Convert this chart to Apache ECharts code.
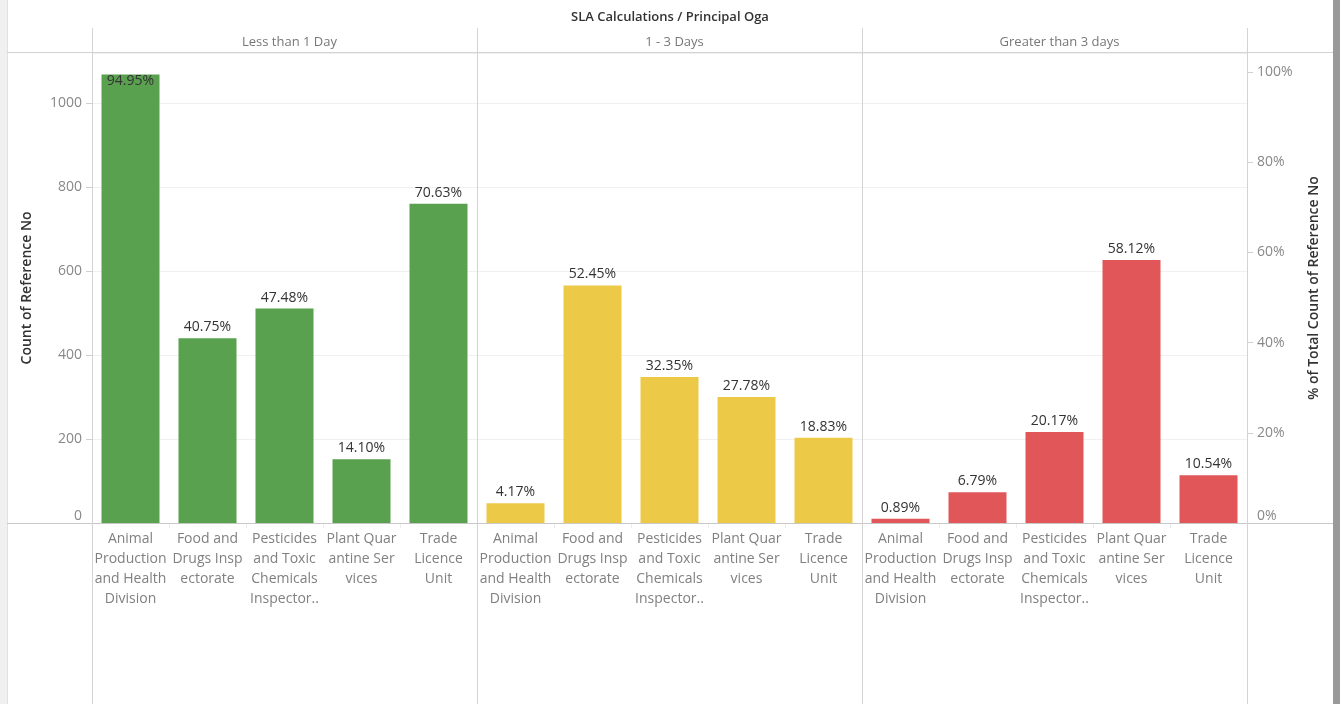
<!DOCTYPE html>
<html><head><meta charset="utf-8">
<script src="https://cdn.jsdelivr.net/npm/echarts@6/dist/echarts.min.js"></script>
<style>html,body{margin:0;padding:0;background:#fff}#c{width:1340px;height:704px}</style>
</head><body><div id="c"></div>
<script>
const chartTitle = 'SLA Calculations / Principal Oga';
const panels = ['Less than 1 Day', '1 - 3 Days', 'Greater than 3 days'];
const categories = [
  'Animal\nProduction\nand Health\nDivision',
  'Food and\nDrugs Insp\nectorate',
  'Pesticides\nand Toxic\nChemicals\nInspector..',
  'Plant Quar\nantine Ser\nvices',
  'Trade\nLicence\nUnit'
];
const countLessThan1Day = [1069, 440, 511, 152, 761];
const count1to3Days = [47, 566, 348, 300, 203];
const countGreaterThan3Days = [10, 73, 217, 627, 114];
const pctLessThan1Day = ['94.95%', '40.75%', '47.48%', '14.10%', '70.63%'];
const pct1to3Days = ['4.17%', '52.45%', '32.35%', '27.78%', '18.83%'];
const pctGreaterThan3Days = ['0.89%', '6.79%', '20.17%', '58.12%', '10.54%'];
const countTicks = [0, 200, 400, 600, 800, 1000];
const pctTicks = [0, 20, 40, 60, 80, 100];
const colors = ['#59A14F', '#EDC948', '#E15759'];

const FONT = 'Open Sans';
const counts = [countLessThan1Day, count1to3Days, countGreaterThan3Days];
const pcts = [pctLessThan1Day, pct1to3Days, pctGreaterThan3Days];

const PANEL_LEFT = 92, PANEL_W = 385, TOP = 53, BASE = 523;
const COUNT_MAX = 1120;       // axis top (grid top)
const PCT_MAX = 104.2;        // synchronized right axis top

const chart = echarts.init(document.getElementById('c'));

const grids = panels.map((p, i) => ({
  left: PANEL_LEFT + i * PANEL_W, width: PANEL_W, top: TOP, height: BASE - TOP
}));

const xAxes = panels.map((p, i) => ({
  type: 'category', gridIndex: i, data: categories,
  axisLine: { show: false },
  axisTick: { show: true, length: 5, lineStyle: { color: '#ececec' } },
  axisLabel: { interval: 0, color: '#808080', fontFamily: FONT, fontSize: 14, lineHeight: 20, margin: 6 }
}));

const countInterval = countTicks[1] - countTicks[0];
const yAxes = panels.map((p, i) => ({
  type: 'value', gridIndex: i, min: 0, max: COUNT_MAX, interval: countInterval,
  position: 'left',
  name: i === 0 ? 'Count of Reference No' : '',
  nameLocation: 'middle', nameGap: 58, nameRotate: 90,
  nameTextStyle: { color: '#333', fontFamily: FONT, fontSize: 14, fontWeight: 600 },
  axisLine: { show: false },
  axisTick: { show: i === 0, length: 6, lineStyle: { color: '#d0d0d0' } },
  axisLabel: {
    show: i === 0, color: '#888', fontFamily: FONT, fontSize: 14, margin: 10,
    formatter: (v) => String(v),
    showMaxLabel: false, verticalAlignMinLabel: 'bottom'
  },
  splitLine: { show: true, lineStyle: { color: '#f0f0f0' } }
}));
yAxes.push({
  type: 'value', gridIndex: 2, position: 'right', min: 0, max: PCT_MAX,
  interval: pctTicks[1] - pctTicks[0],
  name: '% of Total Count of Reference No',
  nameLocation: 'middle', nameGap: 60, nameRotate: 90,
  nameTextStyle: { color: '#333', fontFamily: FONT, fontSize: 14, fontWeight: 600 },
  axisLine: { show: false },
  axisTick: { show: true, length: 6, lineStyle: { color: '#d0d0d0' } },
  axisLabel: {
    color: '#888', fontFamily: FONT, fontSize: 14, margin: 10,
    formatter: '{value}%', showMaxLabel: false, verticalAlignMinLabel: 'bottom'
  },
  splitLine: { show: false }
});

const series = panels.map((p, i) => ({
  type: 'bar', name: p, xAxisIndex: i, yAxisIndex: i,
  barWidth: 58,
  itemStyle: { color: colors[i] },
  data: counts[i].map((v, j) => {
    const inside = (v / COUNT_MAX) > 0.94;
    return {
      value: v,
      label: inside ? { position: 'insideTop', distance: 0 } : undefined
    };
  }),
  label: {
    show: true, position: 'top', distance: 4, color: '#333',
    fontFamily: FONT, fontSize: 14,
    formatter: (prm) => pcts[i][prm.dataIndex]
  },
  silent: true
}));

const titles = [{
  text: chartTitle, left: 'center', top: 6,
  textStyle: { color: '#333', fontFamily: FONT, fontSize: 13, fontWeight: 600 }
}].concat(panels.map((p, i) => ({
  text: p, left: PANEL_LEFT + i * PANEL_W + PANEL_W / 2, textAlign: 'center', top: 31,
  textStyle: { color: '#777', fontFamily: FONT, fontSize: 13, fontWeight: 'normal' }
})));

const lineColor = '#d3d3d3';
const graphics = [
  { type: 'rect', shape: { x: 0, y: 0, width: 7, height: 704 }, style: { fill: '#f0f0f0' }, z: 0 },
  { type: 'line', shape: { x1: 7.5, y1: 0, x2: 7.5, y2: 704 }, style: { stroke: '#e2e2e2', lineWidth: 1 } },
  { type: 'rect', shape: { x: 1333, y: 0, width: 7, height: 704 }, style: { fill: '#9a9a9a' } },
  { type: 'line', shape: { x1: 7, y1: 52.5, x2: 1333, y2: 52.5 }, style: { stroke: lineColor, lineWidth: 1 } },
  { type: 'line', shape: { x1: 7, y1: BASE + 0.5, x2: 1333, y2: BASE + 0.5 }, style: { stroke: '#c8c8c8', lineWidth: 1 }, z: 10 }
];
for (let k = 0; k <= panels.length; k++) {
  const x = PANEL_LEFT + k * PANEL_W + 0.5;
  graphics.push({ type: 'line', shape: { x1: x, y1: 28, x2: x, y2: 704 }, style: { stroke: lineColor, lineWidth: 1 }, z: 10 });
}

chart.setOption({
  backgroundColor: '#fff',
  animation: false,
  title: titles,
  grid: grids,
  xAxis: xAxes,
  yAxis: yAxes,
  series: series,
  graphic: graphics
});
</script></body></html>
